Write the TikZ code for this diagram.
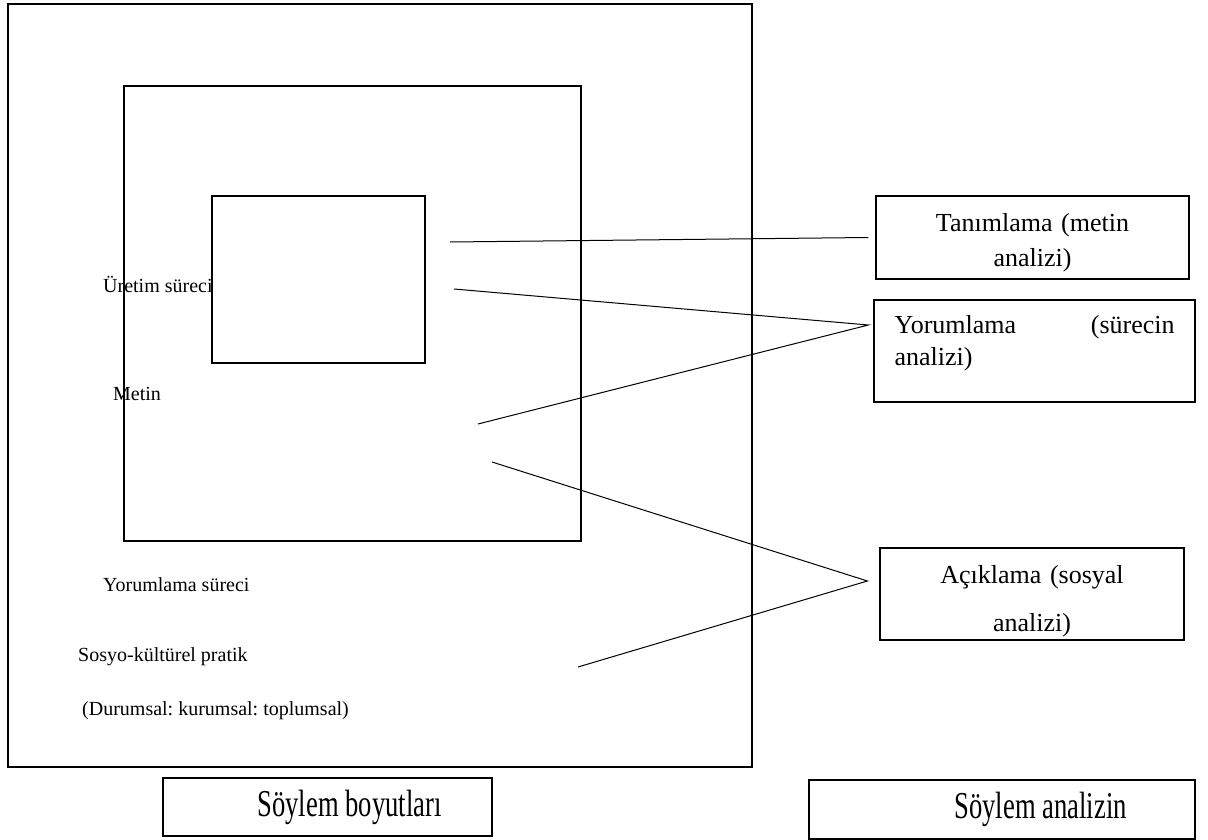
\documentclass[tikz,border=0pt]{standalone}
\usepackage{fontspec}
\setmainfont{Liberation Serif}
\newfontfamily\narrowserif[FakeStretch=0.7]{Liberation Serif}
\usetikzlibrary{positioning}
\usetikzlibrary{calc}
\frenchspacing

\tikzset{
  framebox/.style={line width=2.2pt},
  infobox/.style={draw,line width=1.2pt,inner sep=0pt},
  sidetext/.style={anchor=west,inner sep=0pt,font=\fontsize{20}{24}\selectfont},
  boxtext/.style={anchor=west,inner sep=0pt,font=\narrowserif\fontsize{38}{40}\selectfont},
  pointer/.style={line width=1pt},
}

\begin{document}
\begin{tikzpicture}[x=1pt,y=-1pt]
            \useasboundingbox (0,0) rectangle (1208,840);
            % outer frame: socio-cultural practice
            \coordinate (nouter1) at (8,4);
            \coordinate (nouter3) at (752,767);
            \draw[framebox] (nouter1) rectangle (nouter3);
            % middle frame: interpretation
            \coordinate (nmid1) at (124,86);
            \coordinate (nmid3) at (581,541);
            \draw[framebox] (nmid1) rectangle (nmid3);
            % inner frame: text
            \coordinate (ninner1) at (212,196);
            \coordinate (ninner3) at (425,363);
            \draw[framebox] (ninner1) rectangle (ninner3);
            % labels of the dimensions
            \node[sidetext] (nuretim)  at (103,284) {Üretim süreci};
            \node[sidetext] (nmetin)   at (113,394) {Metin};
            \node[sidetext] (nyorsur)  at (103,585) {Yorumlama süreci};
            \node[sidetext] (nsosyo)   at (78,657)  {Sosyo-kültürel pratik};
            \node[sidetext] (ndurum)   at (82,711)  {(Durumsal: kurumsal: toplumsal)};
            % analysis boxes
            \node[infobox,minimum width=313,minimum height=83] (ntanim) at (1032.5,237.5) {};
            \node[inner sep=0pt,text width=300,align=center,font=\fontsize{26}{35}\selectfont]
                  (ntanimtext) at ($(ntanim)+(0,5)$) {Tanımlama (metin\\analizi)};
            \node[infobox,minimum width=321,minimum height=102] (nyorum) at (1034.5,351) {};
            \node[anchor=north west,inner sep=0pt,text width=280,align=left,
                  font=\fontsize{26}{32}\selectfont] (nyorumtext) at ($(nyorum.north west)+(21,16)$)
                  {Yorumlama\hfill(sürecin\\analizi)};
            \node[infobox,minimum width=304,minimum height=92] (nacik) at (1032,594) {};
            \node[inner sep=0pt,text width=290,align=center,font=\fontsize{26}{48}\selectfont]
                  (naciktext) at ($(nacik)+(0,7)$) {Açıklama (sosyal\\analizi)};
            % bottom captions
            \node[infobox,minimum width=329,minimum height=58] (nboyut) at (327.5,807) {};
            \node[boxtext] (nboyuttext) at ($(nboyut.west)+(95,0)$) {Söylem boyutları};
            \node[infobox,minimum width=386,minimum height=59] (nanaliz) at (1002,809.5) {};
            \node[boxtext] (nanaliztext) at ($(nanaliz.west)+(146,0)$) {Söylem analizin};
            % pointer lines
            \coordinate (nt1) at (450,242);
            \coordinate (ny1) at (454,289);
            \coordinate (ny2) at (478,424);
            \coordinate (na1) at (492,462);
            \coordinate (na2) at (578,667);
            \coordinate (ntanimtip) at ($(ntanim.west)+(-7,0)$);
            \coordinate (nyorumtip) at ($(nyorum.west)+(-5,-26)$);
            \coordinate (naciktip)  at ($(nacik.west)+(-12,-13)$);
            \draw[pointer] (nt1) -- (ntanimtip);
            \draw[pointer] (ny1) -- (nyorumtip) -- (ny2);
            \draw[pointer] (na1) -- (naciktip) -- (na2);
\end{tikzpicture}
\end{document}
